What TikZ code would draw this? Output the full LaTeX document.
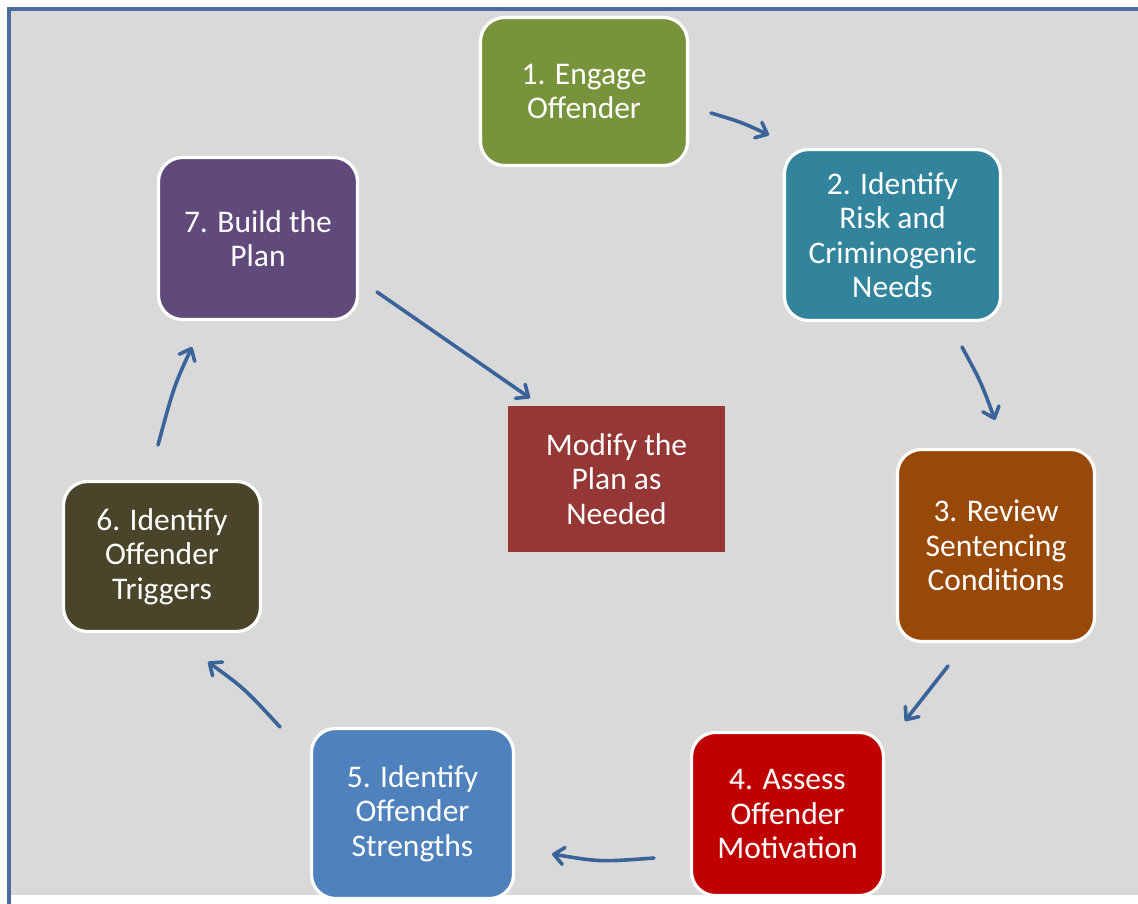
\documentclass[tikz,border=0pt]{standalone}
\usepackage{fontspec}
\setmainfont{Carlito}
\usetikzlibrary{arrows.meta}
\definecolor{bgc}{HTML}{D9D9D9}
\definecolor{framec}{HTML}{4A6B9B}
\definecolor{arrc}{HTML}{3A6399}
\definecolor{cA}{HTML}{77933C}
\definecolor{cB}{HTML}{31849B}
\definecolor{cC}{HTML}{984807}
\definecolor{cD}{HTML}{C00000}
\definecolor{cE}{HTML}{4F81BD}
\definecolor{cF}{HTML}{4A452A}
\definecolor{cG}{HTML}{604A7B}
\definecolor{cM}{HTML}{953735}
\begin{document}
\begin{tikzpicture}[x=1pt,y=-1pt,
  boxfont/.style={font=\fontsize{31.5}{34.5}\selectfont},
  stepbox/.style={draw=white, line width=3.2pt, rounded corners=24pt, text=white,
    align=center, inner sep=0pt, boxfont},
  modbox/.style={text=white, align=center, inner sep=0pt, boxfont},
  flow/.style={draw=arrc, line width=3.6pt, line cap=round,
    -{Straight Barb[length=10pt,width=17pt,line cap=round,line join=round]}}]
\useasboundingbox (0,0) rectangle (1138,903);
% background and frame
\fill[bgc] (8.5,8.5) rectangle (1140,895);
\draw[framec, line width=4pt] (8.5,905) -- (8.5,8.5) -- (1140,8.5);

% step boxes
\node[stepbox, fill=cA, minimum width=207pt, minimum height=148pt] (s1) at (584,91.5) {1. Engage\\Offender};
\node[stepbox, fill=cB, minimum width=216pt, minimum height=171pt] (s2) at (892.5,235) {2. Identify\\Risk and\\Criminogenic\\Needs};
\node[stepbox, fill=cC, minimum width=197pt, minimum height=192pt] (s3) at (996,545.5) {3. Review\\Sentencing\\Conditions};
\node[stepbox, fill=cD, minimum width=192pt, minimum height=163pt] (s4) at (787.5,814) {4. Assess\\Offender\\Motivation};
\node[stepbox, fill=cE, minimum width=202pt, minimum height=170pt] (s5) at (412.5,813.5) {5. Identify\\Offender\\Strengths};
\node[stepbox, fill=cF, minimum width=197pt, minimum height=150pt] (s6) at (162,556.5) {6. Identify\\Offender\\Triggers};
\node[stepbox, fill=cG, minimum width=199pt, minimum height=162pt] (s7) at (258,238.5) {7. Build the\\Plan};
\node[modbox, fill=cM, minimum width=217pt, minimum height=146pt] (mod) at (616.5,479) {Modify the\\Plan as\\Needed};

% arrow end points
\coordinate (a1s) at (711,113);  \coordinate (a1e) at (769,135);
\coordinate (a2s) at (962,347);  \coordinate (a2e) at (995,420);
\coordinate (a3s) at (948,666);  \coordinate (a3e) at (905,721);
\coordinate (a4s) at (654,858);  \coordinate (a4e) at (552,854);
\coordinate (a5s) at (280,727);  \coordinate (a5e) at (208,662);
\coordinate (a6s) at (158,445);  \coordinate (a6e) at (192,347);
\coordinate (a7s) at (377,292);  \coordinate (a7e) at (530,398);

\draw[flow] (a1s) .. controls (741,122) .. (a1e);
\draw[flow] (a2s) .. controls (981,382) .. (a2e);
\draw[flow] (a3s) .. controls (927,692) .. (a3e);
\draw[flow] (a4s) .. controls (600,862) .. (a4e);
\draw[flow] (a5s) .. controls (244,688) .. (a5e);
\draw[flow] (a6s) .. controls (174,386) .. (a6e);
\draw[flow] (a7s) -- (a7e);
\end{tikzpicture}
\end{document}
